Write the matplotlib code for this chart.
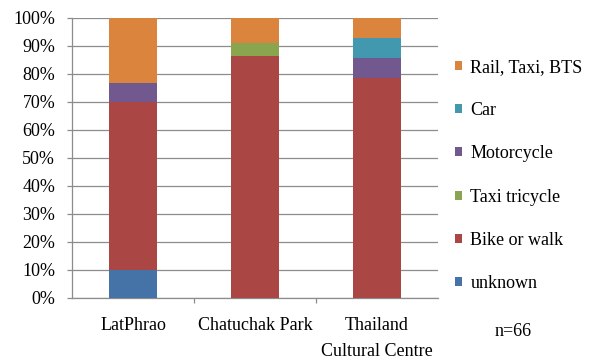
import matplotlib
matplotlib.use("Agg")
import matplotlib.pyplot as plt
import numpy as np
from matplotlib.ticker import FixedLocator, FuncFormatter

plt.rcParams['font.family'] = ['Liberation Serif', 'DejaVu Serif']

categories = ["LatPhrao", "Chatuchak Park", "Thailand\nCultural Centre"]
series = ["unknown", "Bike or walk", "Taxi tricycle", "Motorcycle", "Car", "Rail, Taxi, BTS"]
unknown = [10.0, 0.0, 0.0]
bike_walk = [60.0, 86.4, 78.6]
taxi_tricycle = [0.0, 4.5, 0.0]
motorcycle = [6.7, 0.0, 7.1]
car = [0.0, 0.0, 7.1]
rail_taxi_bts = [23.3, 9.1, 7.2]
colors = ["#4572A7", "#AA4643", "#89A54E", "#71588F", "#4198AF", "#DB843D"]
note = "n=66"

values = [unknown, bike_walk, taxi_tricycle, motorcycle, car, rail_taxi_bts]

FS = 13
fig = plt.figure(figsize=(5.91, 3.60), dpi=100)
W, H = 591, 360
ax = fig.add_axes([72 / W, 1 - 298 / H, (438 - 72) / W, (298 - 18) / H])

x = np.arange(len(categories))
bottom = np.zeros(len(categories))
handles = []
for name, vals, c in zip(series, values, colors):
    v = np.array(vals)
    b = ax.bar(x, v, width=0.40, bottom=bottom, color=c, label=name,
               edgecolor='none', zorder=3)
    handles.append(b)
    bottom += v

ax.set_xlim(-0.5, len(categories) - 0.5)
ax.set_ylim(0, 100)
ax.yaxis.set_major_locator(FixedLocator(np.arange(0, 101, 10)))
ax.yaxis.set_major_formatter(FuncFormatter(lambda v, p: f"{int(v)}%"))
ax.grid(axis='y', color='#8c8c8c', linewidth=0.9, zorder=0)
ax.set_axisbelow(True)

for s in ['top', 'right']:
    ax.spines[s].set_visible(False)
for s in ['left', 'bottom']:
    ax.spines[s].set_color('#8c8c8c')
    ax.spines[s].set_linewidth(0.9)

ax.set_xticks(x)
ax.set_xticklabels(categories, fontsize=FS, linespacing=1.65)
ax.tick_params(axis='x', length=0, pad=14)
ax.set_xticks([0.5, 1.5], minor=True)
ax.tick_params(axis='x', which='minor', length=3.6, color='#8c8c8c', width=0.9)
ax.tick_params(axis='y', length=3.6, color='#8c8c8c', width=0.9, labelsize=FS, pad=8.5)

leg = ax.legend(handles[::-1], series[::-1], loc='upper left',
                bbox_to_anchor=(455 / W, 1 - 59 / H), bbox_transform=fig.transFigure,
                frameon=False, fontsize=FS, handlelength=0.4, handleheight=0.4,
                handletextpad=0.45, labelspacing=1.45, borderpad=0, borderaxespad=0)

fig.text(513 / W, 1 - 331 / H, note, ha='center', va='center', fontsize=FS)

fig.savefig("out.png", dpi=100)
